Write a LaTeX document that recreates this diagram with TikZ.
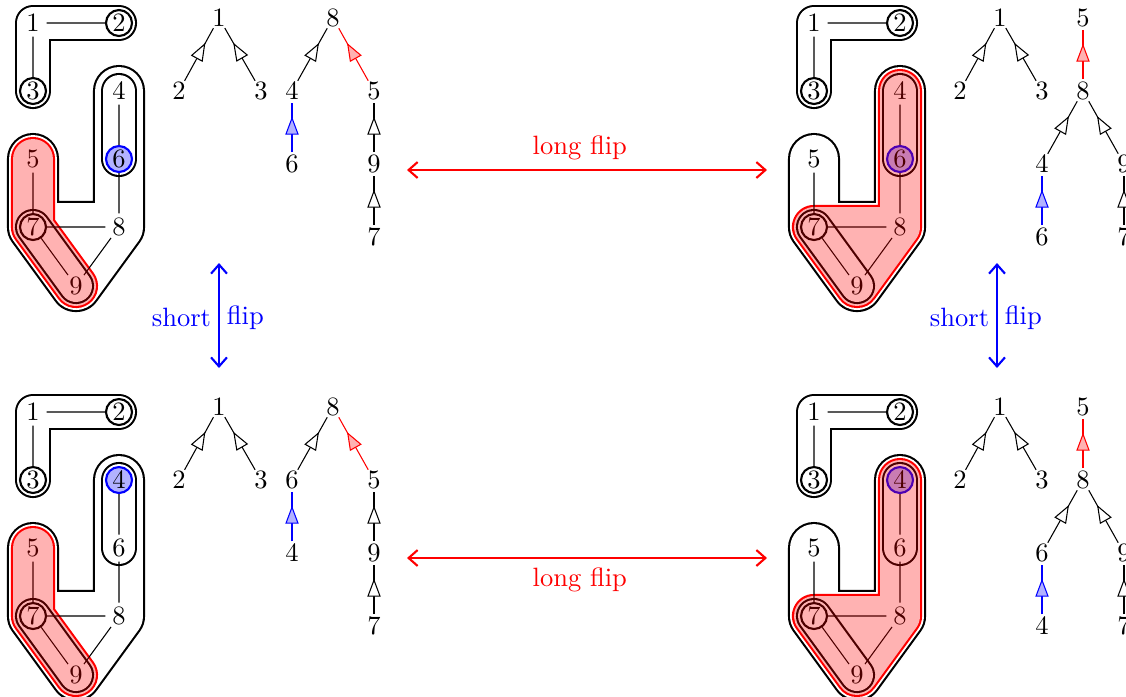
\documentclass[tikz,border=0pt]{standalone}
\usetikzlibrary{arrows.meta,decorations.markings,calc}
\tikzset{
 x=0.3774pt, y=-0.3774pt,
 vx/.style={circle, inner sep=0pt, minimum size=9.8pt},
 cn/.style={vx, draw, thick},
 bn/.style={vx, draw=blue, thick, fill=blue!30},
 tv/.style={circle, inner sep=0pt, minimum size=8pt},
 gedge/.style={line width=0.4pt},
 hullbase/.style={line cap=round, line join=round},
 h3o/.style={hullbase, draw=black, line width=19.67pt},
 h3i/.style={hullbase, draw=white, line width=18.07pt},
 h2o/.style={hullbase, draw=red, line width=16.65pt},
 h2i/.style={hullbase, draw=white, line width=15.05pt},
 h1o/.style={hullbase, draw=black, line width=13.63pt},
 h1i/.style={hullbase, draw=white, line width=12.03pt},
 redveil/.style={hullbase, draw=red, draw opacity=0.3, line width=15.85pt},
 tarr/.style={line width=0.4pt, postaction={decorate}, decoration={markings, mark=at position 0.72 with {\arrow{Triangle[length=6.8pt,width=5pt,fill=#1]}}}},
 tarr/.default=white,
 flip/.style={thick, {Straight Barb[length=3.4pt,width=6pt]}-{Straight Barb[length=3.4pt,width=6pt]}},
 fliplab/.style={inner sep=2.6pt, yshift=-0.8pt},
}
\newcommand\Pcoords{%
 \coordinate (p1) at (33,23); \coordinate (p2) at (119,23);
 \coordinate (p3) at (33,91); \coordinate (p4) at (119,91);
 \coordinate (p5) at (33,159); \coordinate (p6) at (119,159);
 \coordinate (p7) at (33,227); \coordinate (p8) at (119,227);
 \coordinate (p9) at (76,286);
 \coordinate (p78) at ($(p7)!0.5!(p8)$);
}
\newcommand\Pbig{%
 \draw[h3o] (p5)--(p7)--(p9)--(p8)--(p4) (p7)--(p8);
 \draw[h3i] (p5)--(p7)--(p9)--(p8)--(p4) (p7)--(p8);
 \fill[white] (p7)--(p8)--(p9)--cycle;
 \draw[h1o] (p2)--(p1)--(p3);
 \draw[h1i] (p2)--(p1)--(p3);
}
\newcommand\Pcaps{%
 \draw[h1o] (p4)--(p6); \draw[h1i] (p4)--(p6);
 \draw[h1o] (p7)--(p9); \draw[h1i] (p7)--(p9);
}
\newcommand\Pnodes[2]{%
 \node[vx] (n1) at (p1) {1};
 \node[cn] (n2) at (p2) {2};
 \node[cn] (n3) at (p3) {3};
 \node[#1] (n4) at (p4) {4};
 \node[vx] (n5) at (p5) {5};
 \node[#2] (n6) at (p6) {6};
 \node[cn] (n7) at (p7) {7};
 \node[vx] (n8) at (p8) {8};
 \node[vx] (n9) at (p9) {9};
 \draw[gedge] (n1)--(n2) (n1)--(n3) (n5)--(n7) (n7)--(n8) (n7)--(n9)
   (n8)--(n9) (n4)--(n6) (n6)--(n8);
}
\newcommand\TreeA{%
 \node[tv] (t1) at (219,18) {1};
 \node[tv] (t2) at (179,91) {2};
 \node[tv] (t3) at (261,91) {3};
 \draw[tarr] (t2)--(t1);
 \draw[tarr] (t3)--(t1);
}
\newcommand\TreeL[2]{%
 \node[tv] (u8) at (333,18) {8};
 \node[tv] (ua) at (292,91) {#1};
 \node[tv] (u5) at (374,91) {5};
 \node[tv] (ub) at (292,164) {#2};
 \node[tv] (u9) at (374,164) {9};
 \node[tv] (u7) at (374,237) {7};
 \draw[tarr] (ua)--(u8);
 \draw[red, tarr=red!30] (u5)--(u8);
 \draw[blue, tarr=blue!30] (ub)--(ua);
 \draw[tarr] (u9)--(u5);
 \draw[tarr] (u7)--(u9);
}
\newcommand\TreeR[2]{%
 \node[tv] (v5) at (302,18) {5};
 \node[tv] (v8) at (302,91) {8};
 \node[tv] (va) at (261,164) {#1};
 \node[tv] (v9) at (343,164) {9};
 \node[tv] (vb) at (261,237) {#2};
 \node[tv] (v7) at (343,237) {7};
 \draw[red, tarr=red!30] (v8)--(v5);
 \draw[tarr] (va)--(v8);
 \draw[tarr] (v9)--(v8);
 \draw[blue, tarr=blue!30] (vb)--(va);
 \draw[tarr] (v7)--(v9);
}
\begin{document}
\begin{tikzpicture}
\useasboundingbox (0,0) rectangle (1126,696);
% top-left
\begin{scope}[name prefix=a-]
 \Pcoords \Pbig
 \draw[h2o] (p5)--(p7)--(p9); \draw[h2i] (p5)--(p7)--(p9);
 \Pcaps
 \Pnodes{vx}{bn}
 \draw[redveil] (p5)--(p7)--(p9);
 \TreeA \TreeL{4}{6}
\end{scope}
% top-right
\begin{scope}[shift={(781,0)}, name prefix=b-]
 \Pcoords \Pbig
 \draw[h2o] (p4)--(p8)--(p9)--(p7)--(p8); \draw[h2i] (p4)--(p8)--(p9)--(p7)--(p8);
 \fill[white] (p7)--(p8)--(p9)--cycle;
 \Pcaps
 \Pnodes{vx}{bn}
 \draw[redveil] (p4)--(p8)--(p9)--(p7)--(p8) (p9)--(p78);
 \TreeA \TreeR{4}{6}
\end{scope}
% bottom-left
\begin{scope}[shift={(0,389)}, name prefix=c-]
 \Pcoords \Pbig
 \draw[h2o] (p5)--(p7)--(p9); \draw[h2i] (p5)--(p7)--(p9);
 \Pcaps
 \Pnodes{bn}{vx}
 \draw[redveil] (p5)--(p7)--(p9);
 \TreeA \TreeL{6}{4}
\end{scope}
% bottom-right
\begin{scope}[shift={(781,389)}, name prefix=d-]
 \Pcoords \Pbig
 \draw[h2o] (p4)--(p8)--(p9)--(p7)--(p8); \draw[h2i] (p4)--(p8)--(p9)--(p7)--(p8);
 \fill[white] (p7)--(p8)--(p9)--cycle;
 \Pcaps
 \Pnodes{bn}{vx}
 \draw[redveil] (p4)--(p8)--(p9)--(p7)--(p8) (p9)--(p78);
 \TreeA \TreeR{6}{4}
\end{scope}
% flips
\coordinate (lfa) at (407,170); \coordinate (lfb) at (767,170);
\coordinate (lga) at (407,558); \coordinate (lgb) at (767,558);
\coordinate (sfa) at (219,263); \coordinate (sfb) at (219,368);
\coordinate (sga) at (997,263); \coordinate (sgb) at (997,368);
\draw[red, flip] (lfa) -- node[pos=0.48, above] {long flip} (lfb);
\draw[red, flip] (lga) -- node[pos=0.48, below] {long flip} (lgb);
\draw[blue, flip] (sfa) -- node[fliplab, left] {short} node[fliplab, right] {flip} (sfb);
\draw[blue, flip] (sga) -- node[fliplab, left] {short} node[fliplab, right] {flip} (sgb);
\end{tikzpicture}
\end{document}
